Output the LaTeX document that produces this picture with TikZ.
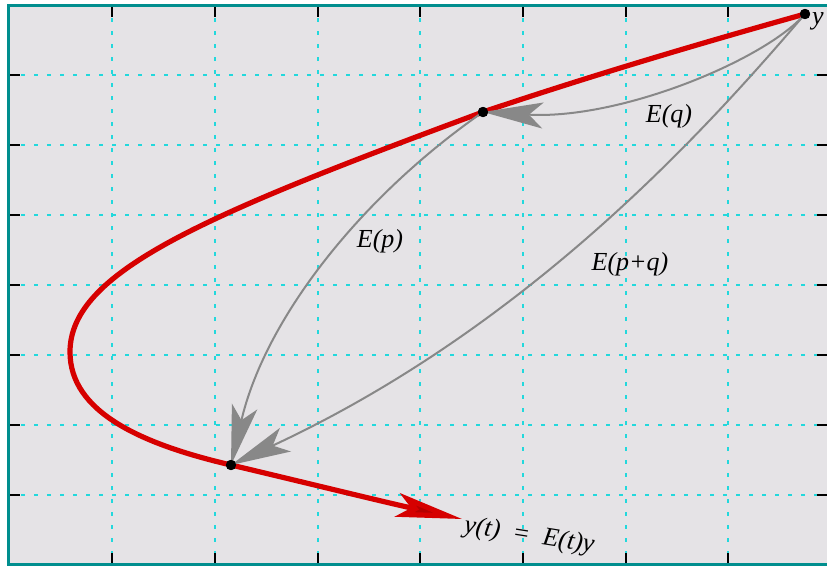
\documentclass[tikz,border=0pt]{standalone}
\usepackage{fontspec}
\setmainfont{Liberation Serif}
\usetikzlibrary{arrows.meta}
\definecolor{bggray}{HTML}{E5E3E6}
\definecolor{frameteal}{HTML}{008E8E}
\definecolor{gridcyan}{HTML}{22D8DC}
\definecolor{curvered}{HTML}{D60000}
\definecolor{arrowgray}{HTML}{888888}
\tikzset{
  gridline/.style={gridcyan, line width=0.75pt, dash pattern=on 2pt off 4.5pt},
  tickline/.style={black, line width=0.8pt},
  dotnode/.style={circle, fill=black, inner sep=0pt, minimum size=5pt},
  grayarrow/.style={arrowgray, line width=1pt, -{Stealth[length=30pt,width=13pt,inset=7pt]}},
  redcurve/.style={curvered, line width=2.6pt, line cap=round, -{Stealth[length=33pt,width=12pt,inset=7pt,fill=curvered!85!black]}},
  lbl/.style={inner sep=0pt, font=\fontsize{13}{15}\selectfont\itshape}
}
\begin{document}
\begin{tikzpicture}[x=0.5pt, y=-0.5pt]
\useasboundingbox (0,0) rectangle (827,568);
\fill[white] (0,0) rectangle (827,568);
\fill[bggray] (8,5) rectangle (827,565);
% grid
\foreach \gx in {112,215,318,420,523,626,728} {
  \draw[gridline] (\gx,5) -- (\gx,565);
}
\foreach \gy in {75,145,215,285,355,425,495} {
  \draw[gridline] (8,\gy) -- (827,\gy);
}
% ticks
\foreach \gx in {112,215,318,420,523,626,728} {
  \draw[tickline] (\gx,5) -- (\gx,17);
  \draw[tickline] (\gx,565) -- (\gx,553);
}
\foreach \gy in {75,145,215,285,355,425,495} {
  \draw[tickline] (8,\gy) -- (20,\gy);
  \draw[tickline] (827,\gy) -- (817,\gy);
}
% frame
\draw[frameteal, line width=1.6pt] (827,5.8) -- (8.8,5.8) -- (8.8,564.2) -- (827,564.2);

% points
\node[dotnode] (y) at (805,14) {};
\node[dotnode] (q) at (483,112) {};
\node[dotnode] (p) at (231,465) {};
\coordinate (L) at (70,352);
\coordinate (tend) at (462,519);

% red trajectory
\draw[redcurve] (y.center) .. controls (698,44) and (590,76) .. (q.center)
  .. controls (203,215.6) and (70,272) .. (L)
  .. controls (70,412) and (141,444) .. (p.center)
  .. controls (307,483) and (384,502) .. (tend);

% gray arrows
\draw[grayarrow] (y.center) .. controls (765,60) and (620,120) .. (q.center);
\draw[grayarrow] (q.center) .. controls (360,197.5) and (265,319) .. (p.center);
\draw[grayarrow] (y.center) .. controls (707.5,128) and (530,326) .. (p.center);

% dots on top
\fill[black] (y) circle (2.6pt);
\fill[black] (q) circle (2.6pt);
\fill[black] (p) circle (2.6pt);

% labels
\node[lbl] (ly) at (818,21) {y};
\node[lbl] (lq) at (669,116) {E(q)};
\node[lbl] (lp) at (380,241) {E(p)};
\node[lbl] (lpq) at (630,264) {E(p+q)};
\node[lbl, anchor=west, rotate=-9] (lyt) at (464,526) {y(t)\hspace{0.55em}\upshape=\hspace{0.55em}\itshape E(t)y};
\end{tikzpicture}
\end{document}
